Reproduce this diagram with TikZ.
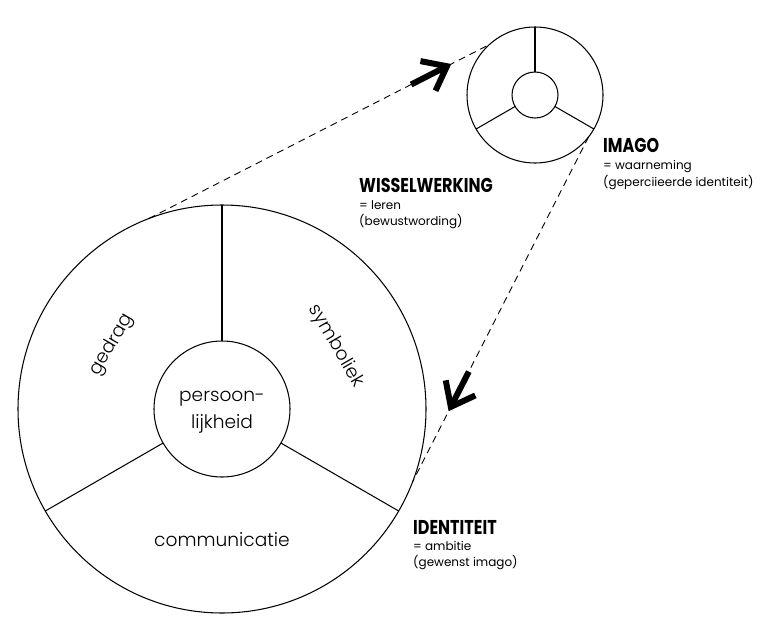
\documentclass[tikz,border=0pt]{standalone}
\usepackage{fontspec}
\usetikzlibrary{calc}
\setmainfont{Poppins}
\newfontfamily\lightfont{Poppins Light}
\newfontfamily\headfont{Poppins}[FakeStretch=0.8]
\begin{document}
\begin{tikzpicture}[x=1pt,y=-1pt,
  ring/.style={circle, draw, line width=1.05pt, inner sep=0pt, outer sep=0pt, minimum size=#1},
  spoke/.style={line width=1.05pt},
  link/.style={line width=0.9pt, dash pattern=on 7pt off 5pt},
  bigarrow/.style={line width=6pt, line cap=butt, line join=miter},
  seglabel/.style={font=\lightfont\fontsize{18.6}{26}\selectfont, inner sep=0pt},
  head/.style={font=\headfont\bfseries\fontsize{20}{24}\selectfont, anchor=base west, inner sep=0pt},
  note/.style={font=\fontsize{12}{14}\selectfont, anchor=base west, inner sep=0pt}]
\useasboundingbox (0,0) rectangle (768,629);
% big circle
\node[ring=408pt] (big) at (222,409) {};
\node[ring=136pt] (bigin) at (222,409) {};
\draw[spoke] (bigin.90) -- (big.90);
\draw[spoke] (bigin.210) -- (big.210);
\draw[spoke] (bigin.330) -- (big.330);
% small circle
\node[ring=136pt] (small) at (535,95) {};
\node[ring=46pt] (smallin) at (535,95) {};
\draw[spoke] (smallin.90) -- (small.90);
\draw[spoke] (smallin.210) -- (small.210);
\draw[spoke] (smallin.330) -- (small.330);
% segment labels
\node[seglabel, anchor=base] (p1) at (222,401.7) {persoon-};
\node[seglabel, anchor=base] (p2) at (222,428) {lijkheid};
\node[seglabel, rotate=60] (ged) at (112,345) {gedrag};
\node[seglabel, rotate=-60] (sym) at (336,346) {symboliek};
\node[seglabel, anchor=base] (com) at (222,546.5) {communicatie};
% dashed links
\draw[link] (big.111) -- (small.132);
\draw[link] (small.-38) -- (big.-21);
% arrows
\coordinate (a1s) at ($(big.111)!0.77!(small.132)$);
\coordinate (a1t) at ($(big.111)!0.875!(small.132)$);
\draw[bigarrow] (a1s) -- (a1t);
\draw[bigarrow] ($(a1t)!27pt!38:(a1s)$) -- (a1t) -- ($(a1t)!27pt!-38:(a1s)$);
\coordinate (a2s) at ($(small.-38)!0.68!(big.-21)$);
\coordinate (a2t) at ($(small.-38)!0.782!(big.-21)$);
\draw[bigarrow] (a2s) -- (a2t);
\draw[bigarrow] ($(a2t)!27pt!38:(a2s)$) -- (a2t) -- ($(a2t)!27pt!-38:(a2s)$);
% text labels
\node[head] (imago) at (603,152) {IMAGO};
\node[note] (imago1) at (603,169) {= waarneming};
\node[note] (imago2) at (603,186) {(geperciieerde identiteit)};
\node[head] (wissel) at (359,192.5) {WISSELWERKING};
\node[note] (wissel1) at (359,209) {= leren};
\node[note] (wissel2) at (359,225) {(bewustwording)};
\node[head] (ident) at (413,534) {IDENTITEIT};
\node[note] (ident1) at (413,550) {= ambitie};
\node[note] (ident2) at (413,566) {(gewenst imago)};
\end{tikzpicture}
\end{document}
